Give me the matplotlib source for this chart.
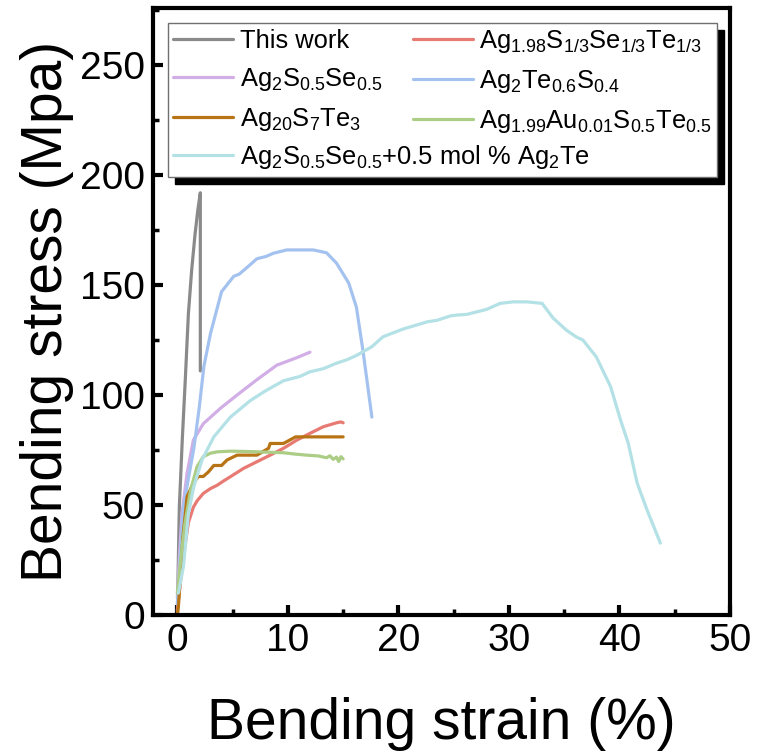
import matplotlib
matplotlib.use("Agg")
import matplotlib.pyplot as plt
from matplotlib.lines import Line2D
from matplotlib.ticker import MultipleLocator

plt.rcParams["font.family"] = ["Liberation Sans", "DejaVu Sans"]
plt.rcParams["mathtext.fontset"] = "custom"
plt.rcParams["mathtext.rm"] = "Liberation Sans"
plt.rcParams["mathtext.it"] = "Liberation Sans:italic"
plt.rcParams["mathtext.bf"] = "Liberation Sans:bold"

# bending strain (%) / bending stress (MPa)
this_work_x = [0.0, 0.18, 0.45, 0.72, 1.0, 1.3, 1.6, 1.85, 2.08, 2.08]
this_work_y = [0, 49, 80, 107, 137, 157, 173, 184, 192, 111]

agsste_x = [0.0, 0.5, 1.0, 1.45, 1.8, 2.35, 3.0, 3.6, 4.2, 4.8, 6.0, 7.2, 8.4,
            9.6, 10.8, 12.0, 13.2, 14.4, 14.8, 15.0]
agsste_y = [2, 25, 42, 49, 52, 55.3, 57.5, 59, 61, 62.9, 66.7, 69.7, 72.7,
            75.8, 79.5, 82.6, 85.6, 87.4, 87.8, 87.4]

agsse_x = [0.0, 0.2, 0.42, 0.88, 1.45, 2.35, 3.9, 5.4, 7.2, 9.0, 10.8, 12.0]
agsse_y = [8, 28, 46, 64.5, 79.5, 87, 94, 100, 107, 113.6, 117, 119.5]

agtes_x = [0.0, 0.3, 0.55, 1.0, 1.5, 2.0, 2.4, 3.0, 4.0, 5.1, 5.6, 6.3, 7.2,
           8.0, 8.7, 9.9, 12.3, 13.5, 14.4, 15.5, 16.2, 16.8, 17.6]
agtes_y = [5, 30, 49, 62, 76, 95, 113, 128, 147, 154, 155, 158, 162,
           163, 164.5, 166, 166, 164.7, 160, 151, 140, 120, 90]

ag20_x = [0.0, 0.1, 0.5, 0.88, 1.45, 1.9, 2.35, 2.8, 3.3, 4.0, 4.5, 5.4, 7.2,
          8.25, 8.4, 9.6, 10.7, 15.0]
ag20_y = [0, 4, 35, 53.8, 60, 63, 63, 65, 68, 68, 70.5, 72.7, 72.7,
          75.8, 78, 78, 81, 81]

agau_x = [0.0, 0.3, 0.7, 1.2, 1.78, 2.35, 3.0, 3.6, 4.8, 6.0, 7.2, 8.4, 9.6,
          10.6, 11.7, 12.8, 13.5, 13.8, 14.1, 14.4, 14.6, 14.8, 15.0]
agau_y = [10, 25, 42, 56.8, 67.4, 72, 73.6, 74.2, 74.5, 74.4, 74.2, 74.0, 73.8,
          73.2, 72.7, 72.3, 71.5, 72.4, 70.8, 71.8, 69.8, 72.0, 71.0]

agsse_te_x = [0.1, 0.55, 1.0, 1.47, 2.23, 3.3, 4.8, 6.6, 8.0, 9.6, 11.1, 12.0,
              13.2, 14.4, 15.3, 16.2, 17.6, 18.6, 20.4, 22.6, 23.5, 24.7,
              25.3, 26.2, 28.0, 29.2, 30.4, 31.6, 33.0, 34.0, 35.2, 36.1,
              36.7, 37.9, 39.2, 40.1, 40.8, 41.6, 42.5, 43.7]
agsse_te_y = [10, 22, 46, 58, 70.5, 81, 90, 97.5, 102, 106.5, 108.5, 110.6,
              112, 114.5, 116, 118, 122, 126.5, 130, 133.3, 134, 136,
              136.4, 136.7, 139, 141.7, 142.4, 142.4, 141.7, 135, 129.5, 126.4,
              125, 117.4, 103.8, 88.6, 78, 60, 47.7, 32.7]

labels = [
    "This work",
    r"Ag$_{1.98}$S$_{1/3}$Se$_{1/3}$Te$_{1/3}$",
    r"Ag$_{2}$S$_{0.5}$Se$_{0.5}$",
    r"Ag$_{2}$Te$_{0.6}$S$_{0.4}$",
    r"Ag$_{20}$S$_{7}$Te$_{3}$",
    r"Ag$_{1.99}$Au$_{0.01}$S$_{0.5}$Te$_{0.5}$",
    r"Ag$_{2}$S$_{0.5}$Se$_{0.5}$+0.5 mol % Ag$_{2}$Te",
]
colors = ["#8a8a8a", "#e87a74", "#d2aee6", "#a4c2ef", "#b87414", "#abcd85", "#b3e1e5"]

series = [
    (this_work_x, this_work_y),
    (agsste_x, agsste_y),
    (agsse_x, agsse_y),
    (agtes_x, agtes_y),
    (ag20_x, ag20_y),
    (agau_x, agau_y),
    (agsse_te_x, agsse_te_y),
]

fig = plt.figure(figsize=(7.59, 7.55), dpi=100)
ax = fig.add_axes([0.2016, 0.1854, 0.7602, 0.804])

lines = []
for (x, y), c, lab in zip(series, colors, labels):
    ln, = ax.plot(x, y, color=c, lw=2.3, label=lab, solid_capstyle="round",
                  solid_joinstyle="round")
    lines.append(ln)

ax.set_xlim(-2.2, 50)
ax.set_ylim(0, 276)
ax.xaxis.set_major_locator(MultipleLocator(10))
ax.xaxis.set_minor_locator(MultipleLocator(5))
ax.yaxis.set_major_locator(MultipleLocator(50))
ax.yaxis.set_minor_locator(MultipleLocator(25))
ax.tick_params(which="both", direction="in", top=False, right=False,
               labelsize=28, pad=6)
ax.tick_params(which="major", length=7, width=3)
ax.tick_params(which="minor", length=4, width=2.5)
for sp in ax.spines.values():
    sp.set_linewidth(3)

ax.set_xlabel("Bending strain (%)", fontsize=41, labelpad=27)
ax.set_ylabel("Bending stress (Mpa)", fontsize=41, labelpad=4)

# legend: two columns of three plus one long entry on a fourth row
blank = Line2D([], [], color="none")
handles = [lines[0], lines[2], lines[4], blank, lines[1], lines[3], lines[5], blank]
leg_labels = [labels[0], labels[2], labels[4], " ", labels[1], labels[3], labels[5], " "]
leg_kw = dict(fontsize=18.4, handlelength=2.35, handletextpad=0.25,
              borderpad=0.2, borderaxespad=0)
leg1 = ax.legend(handles, leg_labels, ncol=2, loc="upper left",
                 bbox_to_anchor=(0.026, 0.975), columnspacing=1.2,
                 labelspacing=0.5, fancybox=False, edgecolor="#707070",
                 framealpha=1,
                 shadow={"ox": 5, "oy": -5, "facecolor": "black",
                         "edgecolor": "black", "alpha": 1},
                 **leg_kw)
leg1.get_frame().set_linewidth(1.0)
ax.add_artist(leg1)

# place the long entry on the reserved empty row
fig.canvas.draw()
row_box = leg1.get_texts()[3].get_window_extent()
leg_box = leg1.get_window_extent()
inv = ax.transAxes.inverted()
x_a, y_a = inv.transform((leg_box.x0, (row_box.y0 + row_box.y1) / 2 + 1))
leg2 = ax.legend([lines[6]], [labels[6]], loc="center left",
                 bbox_to_anchor=(x_a, y_a), frameon=False, **leg_kw)

fig.savefig("out.png", dpi=100)
